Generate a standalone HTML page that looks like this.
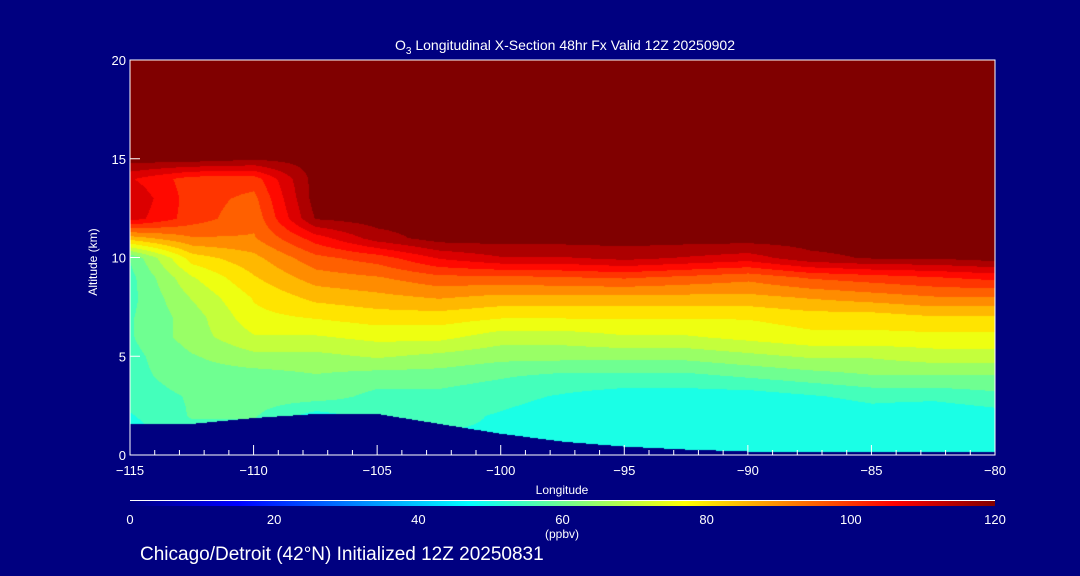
<!DOCTYPE html>
<html><head><meta charset="utf-8"><style>
html,body{margin:0;padding:0;background:#000080;}
#wrap{position:relative;width:1080px;height:576px;background:#000080;overflow:hidden;font-family:"Liberation Sans",sans-serif;color:#fff;}
canvas{position:absolute;left:130px;top:60px;}
svg{position:absolute;left:0;top:0;}
</style></head><body>
<div id="wrap">
<canvas id="field" width="865" height="395"></canvas>
<svg id="ov" width="1080" height="576"></svg>
</div>
<script>
const lons=[-115,-112.5,-110,-107.5,-105,-102.5,-100,-97.5,-95,-92.5,-90,-87.5,-85,-82.5,-80];
const alts=[0,1,2,3,4,5,6,7,8,9,10,11,12,13,14,15,16,17,18,19,20];
const ozone=[
[50,55,55,50,50,52,52,50,48,50,52,52,48,48,48],
[50,55,55,50,50,52,52,50,48,50,52,52,48,48,48],
[52,58,58,50,55,54,52,50,48,48,48,48,50,48,50],
[55,58,60,60,56,56,54,52,50,50,50,52,54,54,56],
[56,60,60,62,60,60,58,56,56,56,58,60,62,62,62],
[56,62,66,66,68,66,64,64,64,64,66,68,68,70,70],
[57,65,72,72,74,74,70,70,72,72,74,76,76,76,76],
[57,65,76,78,80,80,78,78,78,78,78,80,80,82,82],
[56,68,78,84,86,88,86,86,86,86,86,88,90,92,92],
[56,72,82,90,92,96,96,97,98,96,94,98,100,102,104],
[58,80,86,96,100,108,112,112,114,112,110,116,118,118,120],
[85,92,92,105,115,120,120,120,120,120,120,120,120,120,120],
[110,100,94,118,120,120,120,120,120,120,120,120,120,120,120],
[112,100,96,120,120,120,120,120,120,120,120,120,120,120,120],
[108,100,100,120,120,120,120,120,120,120,120,120,120,120,120],
[120,120,118,120,120,120,120,120,120,120,120,120,120,120,120],
[120,120,120,120,120,120,120,120,120,120,120,120,120,120,120],
[120,120,120,120,120,120,120,120,120,120,120,120,120,120,120],
[120,120,120,120,120,120,120,120,120,120,120,120,120,120,120],
[120,120,120,120,120,120,120,120,120,120,120,120,120,120,120],
[120,120,120,120,120,120,120,120,120,120,120,120,120,120,120]];
const terrain=[1.6,1.6,1.9,2.1,2.1,1.6,1.1,0.7,0.45,0.3,0.2,0.2,0.2,0.2,0.2];
const xTicks=[-115,-110,-105,-100,-95,-90,-85,-80];
const yTicks=[0,5,10,15,20];
const cbTicks=[0,20,40,60,80,100,120];

const PX0=130,PX1=995,PY0=60,PY1=455;
const xs=l=>PX0+(l+115)/35*(PX1-PX0);
const ys=a=>PY1-a/20*(PY1-PY0);
const cmapStops=[[0,[0,0,128]],[15,[0,0,255]],[47,[0,255,255]],[62,[128,255,128]],[77,[255,255,0]],[90,[255,140,0]],[106,[255,0,0]],[120,[128,0,0]]];
function cmap(v){v=Math.max(0,Math.min(120,v));for(let i=1;i<cmapStops.length;i++){const [a,ca]=cmapStops[i-1],[b,cb]=cmapStops[i];if(v<=b){const t=(v-a)/(b-a);return ca.map((c,k)=>Math.round(c+(cb[k]-c)*t));}}return cmapStops[cmapStops.length-1][1];}
function interp1(arr,pos){const i=Math.max(0,Math.min(arr.length-2,Math.floor(pos)));const t=Math.max(0,Math.min(1,pos-i));return arr[i]*(1-t)+arr[i+1]*t;}
function lonIdx(l){return (l-lons[0])/(lons[1]-lons[0]);}
function sample(l,a){const fi=lonIdx(l);const fj=a/(alts[1]-alts[0]);const j=Math.max(0,Math.min(alts.length-2,Math.floor(fj)));const t=Math.max(0,Math.min(1,fj-j));return interp1(ozone[j],fi)*(1-t)+interp1(ozone[j+1],fi)*t;}
const cv=document.getElementById('field');const ctx=cv.getContext('2d');
const img=ctx.createImageData(cv.width,cv.height);
for(let px=0;px<cv.width;px++){const l=-115+px/cv.width*35;const tg=interp1(terrain,lonIdx(l));
 for(let py=0;py<cv.height;py++){const a=20-py/cv.height*20;let c;
  if(a<tg)c=[0,0,128];else{let v=sample(l,a);v=Math.round(v/5)*5;c=cmap(v);}
  const o=(py*cv.width+px)*4;img.data[o]=c[0];img.data[o+1]=c[1];img.data[o+2]=c[2];img.data[o+3]=255;}}
ctx.putImageData(img,0,0);

const NS='http://www.w3.org/2000/svg';const svg=document.getElementById('ov');
function el(t,at,txt){const e=document.createElementNS(NS,t);for(const k in at)e.setAttribute(k,at[k]);if(txt!==undefined)e.textContent=txt;svg.appendChild(e);return e;}
const frame=el('rect',{x:PX0,y:PY0,width:PX1-PX0,height:PY1-PY0,fill:'none',stroke:'#fff','stroke-width':1});

for(let l=-115;l<=-80;l++){const major=(l%5===0);const t=el('line',{x1:xs(l),x2:xs(l),y1:PY1,y2:PY1-(major?10:5),stroke:'#fff'});
 }
xTicks.forEach(l=>{const t=el('text',{x:xs(l),y:475,'text-anchor':'middle','font-size':13,fill:'#fff'},String(l).replace('-','\u2212'));
 });
yTicks.forEach(a=>{const tk=el('line',{x1:PX0,x2:PX0+10,y1:ys(a),y2:ys(a),stroke:'#fff'});
 
 const t=el('text',{x:PX0-4,y:ys(a)+5,'text-anchor':'end','font-size':13,fill:'#fff'},String(a));
 });
const title=el('text',{x:565,y:50,'text-anchor':'middle','font-size':14,fill:'#fff'});

title.innerHTML='O<tspan dy="4" font-size="10">3</tspan><tspan dy="-4"> Longitudinal X-Section 48hr  Fx Valid 12Z 20250902</tspan>';
const yl=el('text',{x:97,y:262,'text-anchor':'middle','font-size':12,fill:'#fff',transform:'rotate(-90 97 262)'},'Altitude (km)');

const xl=el('text',{x:562,y:494,'text-anchor':'middle','font-size':12,fill:'#fff'},'Longitude');

const defs=el('defs',{});const g=document.createElementNS(NS,'linearGradient');g.setAttribute('id','cbg');defs.appendChild(g);
cmapStops.forEach(([v,c])=>{const s=document.createElementNS(NS,'stop');s.setAttribute('offset',v/120);s.setAttribute('stop-color','rgb('+c.join(',')+')');g.appendChild(s);});
const cbl=el('line',{x1:PX0,x2:PX1,y1:500.5,y2:500.5,stroke:'#fff'});

const cb=el('rect',{x:PX0,y:501,width:PX1-PX0,height:5,fill:'url(#cbg)'});

cbTicks.forEach(v=>{const t=el('text',{x:PX0+v/120*(PX1-PX0),y:524,'text-anchor':'middle','font-size':13,fill:'#fff'},String(v));
 });
const un=el('text',{x:562,y:538,'text-anchor':'middle','font-size':12,fill:'#fff'},'(ppbv)');

const ft=el('text',{x:140,y:560,'font-size':19,fill:'#fff'},'Chicago/Detroit (42°N) Initialized 12Z 20250831');

</script>
</body></html>
